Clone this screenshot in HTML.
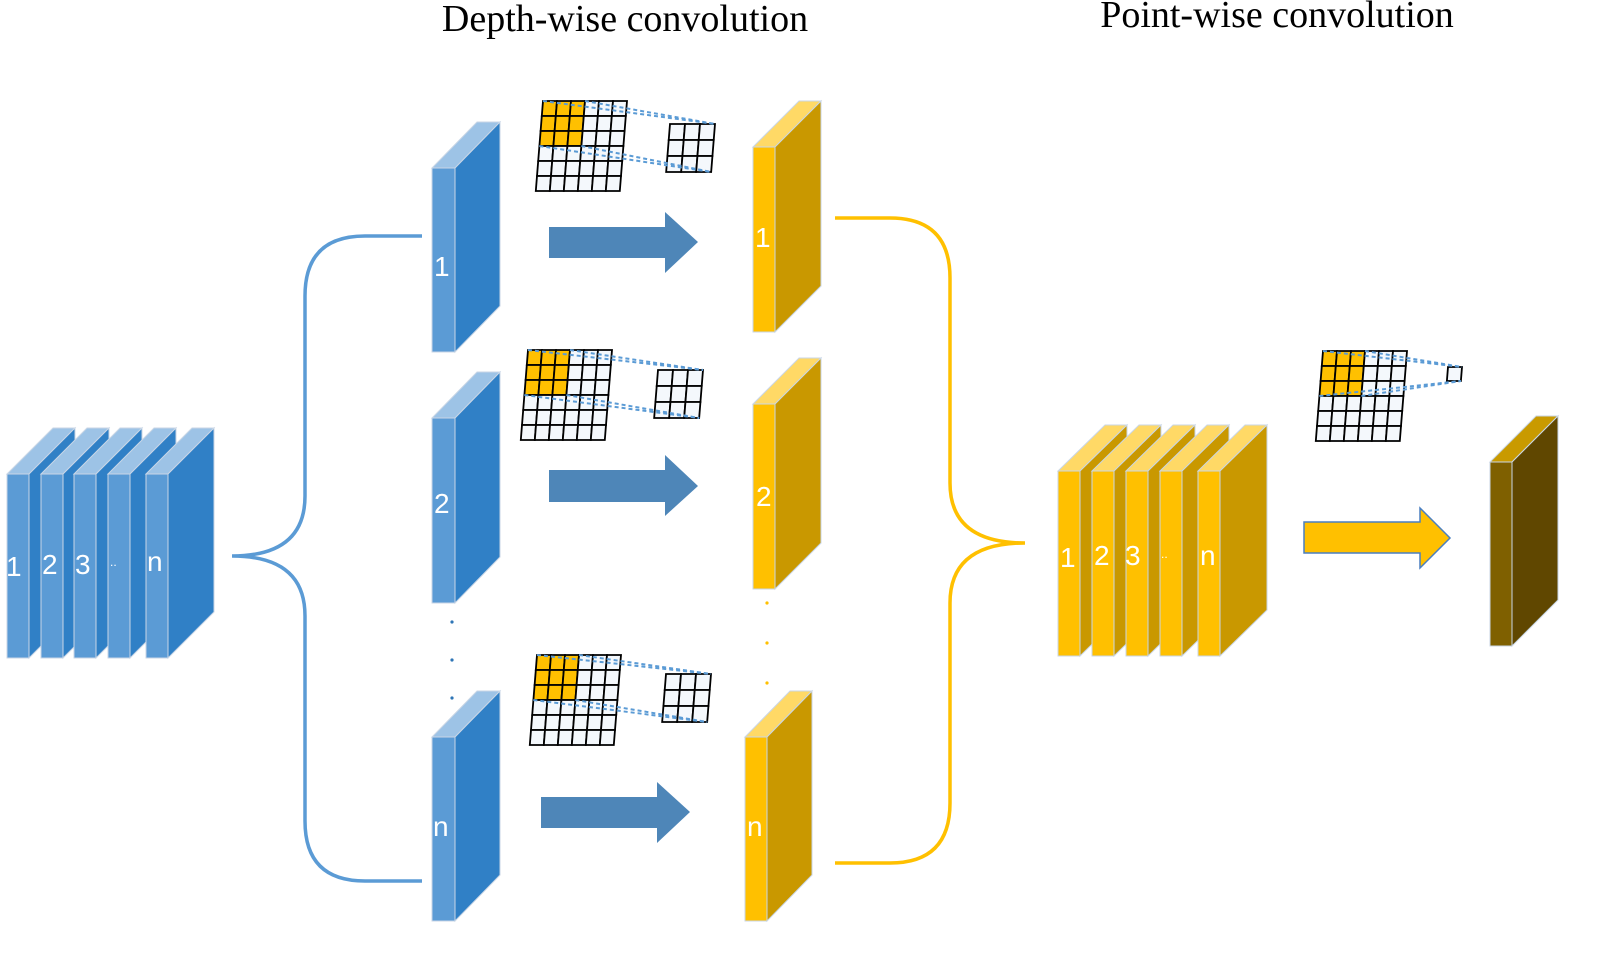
<!DOCTYPE html>
<html><head><meta charset="utf-8"><style>
html,body{margin:0;padding:0;background:#fff;width:1600px;height:958px;overflow:hidden}
svg{display:block}
.t{font-family:"Liberation Serif",serif;font-size:38px;fill:#000}
.l{font-family:"Liberation Sans",sans-serif;font-size:28px;fill:#fff}
</style></head><body>
<svg id="s" width="1600" height="958" viewBox="0 0 1600 958" xmlns="http://www.w3.org/2000/svg">
<g id="shapes"></g>
<path d="M422,236 L365,236 Q305,236 305,296 L305,496 Q305,556 232,556 Q305,556 305,616 L305,821 Q305,881 365,881 L422,881" fill="none" stroke="#5b9bd5" stroke-width="3.5"/>
<path d="M835,218 L890,218 Q950,218 950,278 L950,483 Q950,543 1025,543 Q950,543 950,603 L950,803 Q950,863 890,863 L835,863" fill="none" stroke="#ffc000" stroke-width="3.5"/>
<g fill="#4e86b8">
<polygon points="549,227 665,227 665,212 698,242 665,273 665,258 549,258"/>
<polygon points="549,470 665,470 665,455 698,486 665,516 665,502 549,502"/>
<polygon points="541,797 657,797 657,782 690,812 657,843 657,828 541,828"/>
</g>
<polygon points="1304,522 1420,522 1420,508 1450,538 1420,568 1420,553 1304,553" fill="#ffc000" stroke="#4a7fc0" stroke-width="1.5"/>
<g fill="#2e75b6"><circle cx="452" cy="622" r="1.6"/><circle cx="452" cy="660" r="1.6"/><circle cx="452" cy="698" r="1.6"/></g>
<g fill="#ffc000"><circle cx="767" cy="603" r="1.6"/><circle cx="767" cy="643" r="1.6"/><circle cx="767" cy="683" r="1.6"/></g>
<g id="grids"></g>
<text class="t" x="625" y="31" text-anchor="middle">Depth-wise convolution</text>
<text class="t" x="1277" y="27" text-anchor="middle">Point-wise convolution</text>
<g class="l">
<text x="6" y="576">1</text><text x="42" y="574">2</text><text x="75" y="574">3</text><text x="110" y="566" style="font-size:12px">..</text><text x="147" y="571">n</text>
<text x="434" y="276">1</text><text x="434" y="513">2</text><text x="433" y="836">n</text>
<text x="755" y="247">1</text><text x="756" y="506">2</text><text x="747" y="836">n</text>
<text x="1060" y="567">1</text><text x="1094" y="565">2</text><text x="1125" y="565">3</text><text x="1161" y="558" style="font-size:12px">..</text><text x="1200" y="565">n</text>
</g>
</svg>
<script>
var sh=document.getElementById('shapes'),gr=document.getElementById('grids');
var NS='http://www.w3.org/2000/svg';
function poly(p,par,fill,stroke,sw){var e=document.createElementNS(NS,'polygon');e.setAttribute('points',p.map(function(a){return a.join(',')}).join(' '));e.setAttribute('fill',fill);e.setAttribute('stroke',stroke||'#c9d6e6');e.setAttribute('stroke-width',sw||1);par.appendChild(e);}
function slab(x,y,w,h,dx,dy,c){
 poly([[x,y],[x+w,y],[x+w+dx,y+dy],[x+dx,y+dy]],sh,c[2]);
 poly([[x+w,y],[x+w+dx,y+dy],[x+w+dx,y+h+dy],[x+w,y+h]],sh,c[1]);
 poly([[x,y],[x+w,y],[x+w,y+h],[x,y+h]],sh,c[0]);
}
var B=['#5b9bd5','#3080c6','#9dc3e6'],Y=['#ffc000','#c99800','#ffd966'],Br=['#7f6000','#604700','#c99a00'];
[7,41,74,108,146].forEach(function(x){slab(x,474,22,184,46,-46,B)});
slab(432,168,23,184,45,-46,B);slab(432,418,23,185,45,-46,B);slab(432,737,23,184,45,-46,B);
slab(753,147,22,185,46,-46,Y);slab(753,404,22,185,46,-46,Y);slab(745,737,22,184,45,-46,Y);
[1058,1092,1126,1160,1198].forEach(function(x){slab(x,471,22,185,47,-46,Y)});
slab(1490,462,22,184,46,-46,Br);
function P(x0,y0,sk,u,v){return [x0+u-v*sk,y0+v];}
function line(a,b,col,w,dash){var e=document.createElementNS(NS,'line');e.setAttribute('x1',a[0]);e.setAttribute('y1',a[1]);e.setAttribute('x2',b[0]);e.setAttribute('y2',b[1]);e.setAttribute('stroke',col);e.setAttribute('stroke-width',w);if(dash)e.setAttribute('stroke-dasharray',dash);gr.appendChild(e);}
function grid(x0,y0,n,cw,ch,sk,yl){
 for(var i=0;i<n;i++)for(var j=0;j<n;j++){
  var f=(yl&&i<3&&j<3)?'#ffc000':'#f4f8fc';
  poly([P(x0,y0,sk,i*cw,j*ch),P(x0,y0,sk,(i+1)*cw,j*ch),P(x0,y0,sk,(i+1)*cw,(j+1)*ch),P(x0,y0,sk,i*cw,(j+1)*ch)],gr,f,'#000',1.8);
 }
}
function conv(gx,gy,sx,sy,sn,scw,sch){
 grid(gx,gy,6,14,15,0.08,true);
 grid(sx,sy,sn,scw,sch,0.08,false);
 var tl=P(gx,gy,0.08,0,0),tr=P(gx,gy,0.08,42,0),bl=P(gx,gy,0.08,0,45),br=P(gx,gy,0.08,42,45);
 var stl=P(sx,sy,0.08,0,0),str=P(sx,sy,0.08,sn*scw,0),sbl=P(sx,sy,0.08,0,sn*sch),sbr=P(sx,sy,0.08,sn*scw,sn*sch);
 line(tl,str,'#5b9bd5',2,'4,3');line(tr,str,'#5b9bd5',2,'4,3');
 line(bl,sbr,'#5b9bd5',2,'4,3');line(br,sbr,'#5b9bd5',2,'4,3');
}
conv(543,101,670,124,3,15,16);
conv(528,350,658,370,3,15,16);
conv(537,655,666,674,3,15,16);
conv(1323,351,1448,367,1,14,14);
</script>
</body></html>
